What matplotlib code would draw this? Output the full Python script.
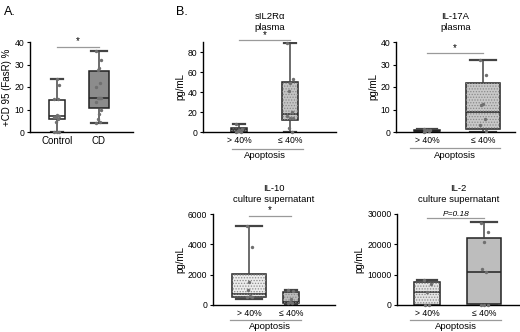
import numpy as np
import matplotlib
matplotlib.use("Agg")
from matplotlib import pyplot as plt
from matplotlib.patches import PathPatch

plt.rcParams['font.family'] = ['Liberation Sans', 'DejaVu Sans']
plt.rcParams['hatch.linewidth'] = 0.6

# ---- data ----
# panel A: +CD95 (FasR) %
a_groups = ['Control', 'CD']
a_stats = [  # whislo, q1, med, q3, whishi
    [0, 6, 7, 14.3, 23.5],
    [4.2, 10.5, 15, 27, 36],
]
a_points = [
    [0, 0, 0, 4.5, 6, 6.5, 7, 7.5, 6.5, 14.5, 14.5, 21, 23.5],
    [36, 32, 28.5, 27.5, 22, 20, 15, 15, 15, 15, 13.5, 10, 8, 6, 4.5, 4.2],
]

b_groups = ['> 40%', '\u2264 40%']

il2r_stats = [[0, 0.5, 2, 4, 8], [0, 12, 18, 50, 89]]
il2r_points = [[8, 3, 2, 1, 0.5, 0], [89, 53, 49, 41, 20, 16, 14, 14, 4, 0]]

il17_stats = [[0, 0.3, 0.6, 1.0, 1.5], [0, 1.5, 9, 22, 32]]
il17_points = [[1.5, 1, 0.8, 0.6, 0.4, 0.2], [32, 25.5, 12.5, 12, 6, 3, 0.5]]

il10_stats = [[400, 550, 700, 2050, 5200], [50, 150, 200, 850, 1000]]
il10_points = [[5200, 3850, 1500, 1000, 600, 550, 500],
               [1000, 950, 400, 200, 150, 100]]

il2_stats = [[0, 0, 4300, 7500, 8200], [0, 300, 11000, 22200, 27200]]
il2_points = [[8200, 7000, 4300, 0, 0], [27000, 24000, 20800, 12000, 11000, 0, 0, 0]]

W, H = 520, 332
fig = plt.figure(figsize=(5.2, 3.32), dpi=100)


def px_axes(left, right, top, bottom):
    return fig.add_axes([left / W, 1 - bottom / H, (right - left) / W, (bottom - top) / H])


def draw_box(ax, stats, points, widths, faces, hatched, ylim, yticks, xlim, labels):
    bstats = []
    for s, lab in zip(stats, labels):
        bstats.append(dict(whislo=s[0], q1=s[1], med=s[2], q3=s[3], whishi=s[4], label=lab))
    res = ax.bxp(bstats, positions=[1, 2], widths=widths, capwidths=[w * 0.75 for w in widths],
                 patch_artist=True, showfliers=False,
                 boxprops=dict(linewidth=1.1, edgecolor='#222222'),
                 medianprops=dict(color='#222222', linewidth=1.1),
                 whiskerprops=dict(color='#444444', linewidth=1.1),
                 capprops=dict(color='#444444', linewidth=1.6))
    for b, fc, h in zip(res['boxes'], faces, hatched):
        b.set_facecolor(fc)
        if h:
            ax.add_patch(PathPatch(b.get_path(), facecolor='none', edgecolor='#8a8a8a',
                                   hatch='......', linewidth=0, zorder=b.get_zorder() + 0.1))
    offs = [-0.06, 0.06, 0.0, -0.03, 0.03]
    for i, pts in enumerate(points):
        xs = [i + 1 + offs[k % len(offs)] for k in range(len(pts))]
        ax.scatter(xs, pts, s=6, color='#707070', zorder=5, clip_on=False, linewidths=0)
    ax.set_xlim(*xlim)
    ax.set_ylim(*ylim)
    ax.set_yticks(yticks)
    ax.spines['top'].set_visible(False)
    ax.spines['right'].set_visible(False)
    ax.spines['left'].set_linewidth(1.0)
    ax.spines['bottom'].set_linewidth(1.0)
    ax.tick_params(axis='both', labelsize=6.2, length=2.5, width=0.8, pad=1.5)
    ax.tick_params(axis='x', length=0, pad=3)


def sig(ax, y, text, italic=False, fs=7):
    ax.plot([1, 2], [y, y], color='#9a9a9a', lw=0.9, clip_on=False)
    ax.text(1.5, y, text, ha='center', va='bottom', fontsize=fs,
            style='italic' if italic else 'normal', clip_on=False)


def apoptosis(ax, x0, x1, line_px, text_px):
    h = ax.get_position().height * H
    tr = ax.get_xaxis_transform()
    ax.plot([x0, x1], [-line_px / h] * 2, transform=tr, color='#9a9a9a', lw=0.9, clip_on=False)
    ax.text(1.5, -text_px / h, 'Apoptosis', transform=tr, ha='center', va='center', fontsize=6.8)


# ---- panel A ----
axA = px_axes(30, 133, 42, 132)
draw_box(axA, a_stats, a_points, [0.38, 0.48], ['white', '#8c8c8c'], [False, False],
         (0, 40), [0, 10, 20, 30, 40], (0.36, 2.81), a_groups)
axA.tick_params(axis='x', labelsize=7)
axA.set_ylabel('+CD 95 (FasR) %', fontsize=7, labelpad=2)
sig(axA, 38, '*')
fig.text(4 / W, 1 - 12 / H, 'A.', fontsize=9, va='center')
fig.text(176 / W, 1 - 12 / H, 'B.', fontsize=9, va='center')

# ---- sIL2Ra plasma ----
ax1 = px_axes(203, 336, 42, 132)
draw_box(ax1, il2r_stats, il2r_points, [0.31, 0.3], ['#9c9c9c', '#c4c4c4'], [True, True],
         (0, 90), [0, 20, 40, 60, 80], (0.29, 2.9), b_groups)
ax1.set_title('sIL2R\u03b1\nplasma', fontsize=6.8, pad=9, linespacing=1.25)
ax1.set_ylabel('pg/mL', fontsize=7, labelpad=2)
sig(ax1, 92, '*')
apoptosis(ax1, 0.85, 2.25, 17, 23)

# ---- IL-17A plasma ----
ax2 = px_axes(396, 515, 42, 132)
draw_box(ax2, il17_stats, il17_points, [0.46, 0.62], ['#9c9c9c', '#c8c8c8'], [False, True],
         (0, 40), [0, 10, 20, 30, 40], (0.45, 2.57), b_groups)
ax2.set_title('IL-17A\nplasma', fontsize=6.8, pad=9, linespacing=1.25)
ax2.set_ylabel('pg/mL', fontsize=7, labelpad=2)
sig(ax2, 35, '*')
apoptosis(ax2, 0.7, 2.3, 16, 23)

# ---- IL-10 culture supernatant ----
ax3 = px_axes(213, 335, 214, 305)
draw_box(ax3, il10_stats, il10_points, [0.8, 0.36], ['#ececec', '#bdbdbd'], [True, True],
         (0, 6000), [0, 2000, 4000, 6000], (0.14, 3.05), b_groups)
ax3.set_title('IL-10\nculture supernatant', fontsize=6.8, pad=9, linespacing=1.25)
ax3.set_ylabel('pg/mL', fontsize=7, labelpad=2)
sig(ax3, 5900, '*')
apoptosis(ax3, 0.55, 2.25, 15, 21.5)

# ---- IL-2 culture supernatant ----
ax4 = px_axes(397, 520, 214, 305)
draw_box(ax4, il2_stats, il2_points, [0.46, 0.6], ['#e4e4e4', '#bdbdbd'], [True, False],
         (0, 30000), [0, 10000, 20000, 30000], (0.47, 2.63), b_groups)
ax4.set_title('IL-2\nculture supernatant', fontsize=6.8, pad=9, linespacing=1.25)
ax4.set_ylabel('pg/mL', fontsize=7, labelpad=2)
sig(ax4, 28700, 'P=0.18', italic=True, fs=6)
apoptosis(ax4, 0.7, 2.3, 15, 21.5)

fig.savefig('out.png', dpi=100)
